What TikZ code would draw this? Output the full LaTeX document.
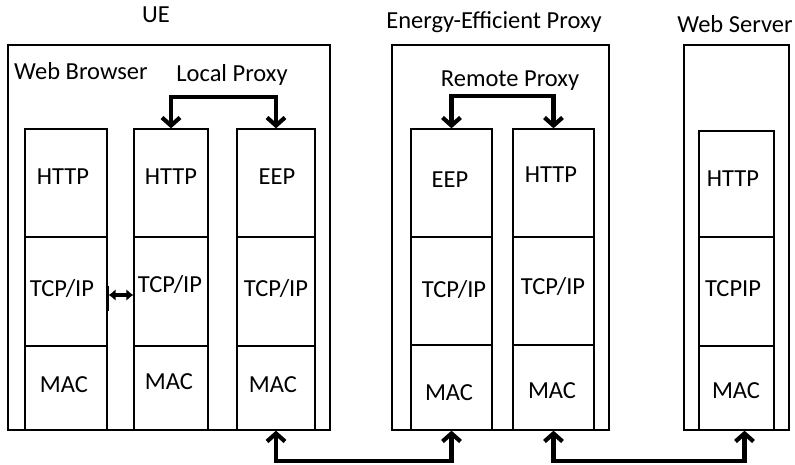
\documentclass[tikz,border=0pt]{standalone}
\usepackage{fontspec}
\setmainfont{Carlito}
\usetikzlibrary{fit,arrows.meta,calc}
\begin{document}
\begin{tikzpicture}[x=1bp,y=-1bp,
  box/.style={draw, line width=1.4bp, inner sep=0pt},
  layer/.style={draw, line width=1.3bp, inner sep=0pt},
  txt/.style={anchor=base, inner sep=0pt, font=\fontsize{24.5bp}{29bp}\selectfont},
  bigarrow/.style={line width=4.2bp, {Straight Barb[length=8bp,width=18bp]}-{Straight Barb[length=8bp,width=18bp]}, line join=miter},
  smallarrow/.style={line width=3.5bp, {Latex[length=7bp,width=12bp]}-{Latex[length=7bp,width=12bp]}},
]
\useasboundingbox (0,0) rectangle (795,465);

% hosts
\node[box, fit={(8,45) (330,430)}] (ue) {};
\node[box, fit={(392,45) (609,430)}] (eep) {};
\node[box, fit={(684,45) (789,430)}] (ws) {};

\node[txt] (ueT) at (156,23) {UE};
\node[txt] (eepT) at (494,29) {Energy-Efficient Proxy};
\node[txt] (wsT) at (735,33) {Web Server};
\node[txt, anchor=base west] (wbT) at (14,80) {Web Browser};
\node[txt] (lpT) at (232,82) {Local Proxy};
\node[txt] (rpT) at (510,87) {Remote Proxy};

% web browser stack
\node[layer, fit={(25,129) (107,237)}] (wbHttp) {};
\node[layer, fit={(25,237) (107,346)}] (wbTcp) {};
\node[layer, fit={(25,346) (107,430)}] (wbMac) {};
\node[txt] (wbHttpT) at (63,185) {HTTP};
\node[txt] (wbTcpT) at (62,297) {TCP/IP};
\node[txt] (wbMacT) at (64,392) {MAC};

% local proxy, HTTP side
\node[layer, fit={(134,129) (208,237)}] (lpHttp) {};
\node[layer, fit={(134,237) (208,346)}] (lpTcp) {};
\node[layer, fit={(134,346) (208,430)}] (lpMac) {};
\node[txt] (lpHttpT) at (171,185) {HTTP};
\node[txt] (lpTcpT) at (170,293) {TCP/IP};
\node[txt] (lpMacT) at (169,389) {MAC};

% local proxy, EEP side
\node[layer, fit={(237,129) (315,237)}] (ueEep) {};
\node[layer, fit={(237,237) (315,346)}] (ueEepTcp) {};
\node[layer, fit={(237,346) (315,430)}] (ueEepMac) {};
\node[txt] (ueEepT) at (277,185) {EEP};
\node[txt] (ueEepTcpT) at (276,297) {TCP/IP};
\node[txt] (ueEepMacT) at (273,392) {MAC};

% remote proxy, EEP side
\node[layer, fit={(411,129) (492,237)}] (reEep) {};
\node[layer, fit={(411,237) (492,345)}] (reEepTcp) {};
\node[layer, fit={(411,345) (492,430)}] (reEepMac) {};
\node[txt] (reEepT) at (450,188) {EEP};
\node[txt] (reEepTcpT) at (454,298) {TCP/IP};
\node[txt] (reEepMacT) at (449,400) {MAC};

% remote proxy, HTTP side
\node[layer, fit={(513,129) (594,237)}] (reHttp) {};
\node[layer, fit={(513,237) (594,345)}] (reHttpTcp) {};
\node[layer, fit={(513,345) (594,430)}] (reHttpMac) {};
\node[txt] (reHttpT) at (551,183) {HTTP};
\node[txt] (reHttpTcpT) at (553,295) {TCP/IP};
\node[txt] (reHttpMacT) at (552,398) {MAC};

% web server stack
\node[layer, fit={(699,131) (774,237)}] (wsHttp) {};
\node[layer, fit={(699,237) (774,346)}] (wsTcp) {};
\node[layer, fit={(699,346) (774,430)}] (wsMac) {};
\node[txt] (wsHttpT) at (733,187) {HTTP};
\node[txt] (wsTcpT) at (733,297) {TCPIP};
\node[txt] (wsMacT) at (736,398) {MAC};

% connectors
\draw[bigarrow] (lpHttp.north) -- ++(0,-31) -| (ueEep.north);
\draw[bigarrow] (reEep.north) -- ++(0,-32) -| (reHttp.north);
\draw[bigarrow] (ueEepMac.south) -- ++(0,30) -| (reEepMac.south);
\draw[bigarrow] (reHttpMac.south) -- ++(0,30) -| ($(wsMac.south)+(8,0)$);

\draw[line width=2.5bp] ($(wbTcp.east)+(0,-5.5)$) -- ($(wbTcp.east)+(0,19.5)$);
\draw[smallarrow] ($(wbTcp.east)+(1,3.5)$) -- ($(lpTcp.west)+(0,3.5)$);
\end{tikzpicture}
\end{document}
